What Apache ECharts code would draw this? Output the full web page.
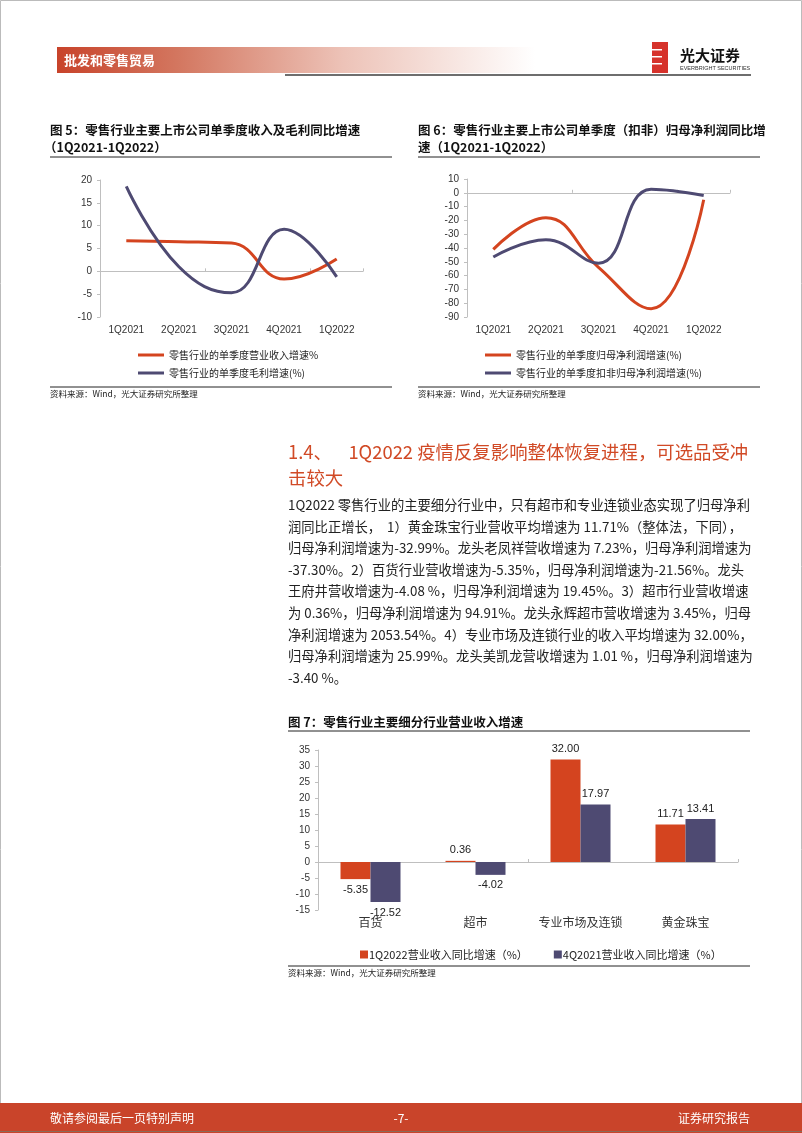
<!DOCTYPE html>
<html><head><meta charset="utf-8">
<script src="https://cdn.jsdelivr.net/npm/echarts@6/dist/echarts.min.js"></script>
<style>html,body{margin:0;padding:0;background:#fff}#c{width:802px;height:1133px}</style>
</head><body><div id="c"></div>
<script>
// ---- data ----
const quarters = ['1Q2021','2Q2021','3Q2021','4Q2021','1Q2022'];
const fig5Revenue = [6.7, 6.5, 6.2, -1.7, 2.7];
const fig5Gross = [18.6, 1.0, -4.7, 9.2, -1.2];
const fig5Names = ['零售行业的单季度营业收入增速%','零售行业的单季度毛利增速(%)'];
const fig6Net = [-41, -18, -54, -84, -5];
const fig6NetDeducted = [-46.5, -34, -51, 2.5, -2];
const fig6Names = ['零售行业的单季度归母净利润增速(%)','零售行业的单季度扣非归母净利润增速(%)'];
const sectors = ['百货','超市','专业市场及连锁','黄金珠宝'];
const fig7Q1 = [-5.35, 0.36, 32.00, 11.71];
const fig7Q4 = [-12.52, -4.02, 17.97, 13.41];
const fig7Names = ['1Q2022营业收入同比增速（%）','4Q2021营业收入同比增速（%）'];
const paragraph = [
 '1Q2022 零售行业的主要细分行业中，只有超市和专业连锁业态实现了归母净利',
 '润同比正增长，  1）黄金珠宝行业营收平均增速为 11.71%（整体法，下同），',
 '归母净利润增速为-32.99%。龙头老凤祥营收增速为 7.23%，归母净利润增速为',
 '-37.30%。2）百货行业营收增速为-5.35%，归母净利润增速为-21.56%。龙头',
 '王府井营收增速为-4.08 %，归母净利润增速为 19.45%。3）超市行业营收增速',
 '为 0.36%，归母净利润增速为 94.91%。龙头永辉超市营收增速为 3.45%，归母',
 '净利润增速为 2053.54%。4）专业市场及连锁行业的收入平均增速为 32.00%，',
 '归母净利润增速为 25.99%。龙头美凯龙营收增速为 1.01 %，归母净利润增速为',
 '-3.40 %。'
];

const RED = '#D4441F', PURPLE = '#4E4A72';
const SANS = '"Liberation Sans", Arial, "Noto Sans CJK SC", sans-serif';
const CJK = '"Noto Sans CJK SC", sans-serif';

const chart = echarts.init(document.getElementById('c'), null, {renderer:'canvas'});

function txt(text, x, y, size, opts) {
  opts = opts || {};
  return {type:'text', x:x, y:y, silent:true, z:10, style:{
    text:text, fill:opts.fill||'#222', fontSize:size, fontWeight:opts.weight||'normal',
    fontFamily:opts.family||CJK, align:opts.align||'left', verticalAlign:'middle'}};
}
function hline(x1, x2, y, w, c) {
  return {type:'line', silent:true, shape:{x1:x1,y1:y,x2:x2,y2:y}, style:{stroke:c||'#000', lineWidth:w||1}};
}

const graphics = [
  {type:'rect', shape:{x:0.5,y:0.5,width:801,height:1132}, style:{fill:'none', stroke:'#bbb', lineWidth:1}, silent:true},
  // header
  {type:'rect', shape:{x:57,y:47,width:478,height:26}, silent:true, style:{fill:new echarts.graphic.LinearGradient(0,0,1,0,[
    {offset:0,color:'#C8432A'},{offset:0.25,color:'#D3765F'},{offset:0.6,color:'#EDC3B8'},{offset:1,color:'#ffffff'}])}},
  txt('批发和零售贸易', 64, 60, 13, {fill:'#fff', weight:'bold'}),
  {type:'rect', shape:{x:285,y:74,width:466,height:2}, style:{fill:'#6e6e6e'}, silent:true},
  // logo
  {type:'rect', shape:{x:652,y:42,width:16,height:31}, style:{fill:'#D6322B'}, silent:true},
  {type:'rect', shape:{x:652,y:49,width:10,height:1.5}, style:{fill:'#fff'}, silent:true},
  {type:'rect', shape:{x:652,y:56,width:10,height:1.5}, style:{fill:'#fff'}, silent:true},
  {type:'rect', shape:{x:652,y:63,width:10,height:1.5}, style:{fill:'#fff'}, silent:true},
  txt('光大证券', 680, 55, 15, {weight:'bold', fill:'#111'}),
  txt('EVERBRIGHT SECURITIES', 680, 68, 5.5, {family:SANS, fill:'#333'}),
  // fig 5 title
  txt('图 5：零售行业主要上市公司单季度收入及毛利同比增速', 50, 130, 12.5, {weight:'bold', fill:'#111'}),
  txt('（1Q2021-1Q2022）', 44, 147, 12.5, {weight:'bold', fill:'#111'}),
  hline(50, 392, 157, 1, '#222'),
  hline(50, 392, 387, 1, '#222'),
  txt('资料来源：Wind，光大证券研究所整理', 50, 394, 8.5, {fill:'#222'}),
  // fig 6 title
  txt('图 6：零售行业主要上市公司单季度（扣非）归母净利润同比增', 418, 130, 12.5, {weight:'bold', fill:'#111'}),
  txt('速（1Q2021-1Q2022）', 418, 147, 12.5, {weight:'bold', fill:'#111'}),
  hline(418, 760, 157, 1, '#222'),
  hline(418, 760, 387, 1, '#222'),
  txt('资料来源：Wind，光大证券研究所整理', 418, 394, 8.5, {fill:'#222'}),
  // section heading
  txt('1.4、    1Q2022 疫情反复影响整体恢复进程，可选品受冲', 288, 452, 18.4, {fill:'#D14A26'}),
  txt('击较大', 288, 478, 18.4, {fill:'#D14A26'}),
  // fig 7 title
  txt('图 7：零售行业主要细分行业营业收入增速', 288, 722, 12.5, {weight:'bold', fill:'#111'}),
  hline(288, 750, 731, 1, '#222'),
  hline(288, 750, 966, 1, '#222'),
  txt('资料来源：Wind，光大证券研究所整理', 288, 973, 8.5, {fill:'#222'}),
  // footer
  {type:'rect', shape:{x:0,y:1103,width:802,height:30}, style:{fill:'#C9442A'}, silent:true},
  hline(0, 802, 1131.5, 1, '#8a6a5a'),
  txt('敬请参阅最后一页特别声明', 50, 1118, 12, {fill:'#fff'}),
  txt('-7-', 401, 1118, 12, {fill:'#fff', align:'center'}),
  txt('证券研究报告', 750, 1118, 12, {fill:'#fff', align:'right'})
];
paragraph.forEach((line, i) => graphics.push(txt(line, 288, 505 + i * 21.6, 13.3, {fill:'#222'})));

const axisLbl = {color:'#333', fontSize:10, fontFamily:SANS};
function lineYAxis(gi, min, max, interval) {
  return {gridIndex:gi, type:'value', min:min, max:max, interval:interval,
    splitLine:{show:false}, axisLine:{show:true, lineStyle:{color:'#bfbfbf'}},
    axisTick:{show:true, length:3, lineStyle:{color:'#bfbfbf'}},
    axisLabel:Object.assign({margin:8}, axisLbl)};
}
function zeroAxis(gi, cats) {
  return {gridIndex:gi, type:'category', data:cats, position:'bottom',
    axisLine:{onZero:true, lineStyle:{color:'#bfbfbf'}},
    axisTick:{show:true, inside:true, length:3, lineStyle:{color:'#bfbfbf'}},
    axisLabel:{show:false}};
}
function labelAxis(gi, cats, lbl) {
  return {gridIndex:gi, type:'category', data:cats, position:'bottom',
    axisLine:{show:false, onZero:false}, axisTick:{show:false}, axisLabel:Object.assign({interval:0}, lbl)};
}
function lineSeries(name, data, color, xi, yi) {
  return {type:'line', name:name, data:data, xAxisIndex:xi, yAxisIndex:yi,
    smooth:0.45, symbol:'none', lineStyle:{color:color, width:3}, itemStyle:{color:color}};
}

function barLabel(v) {
  return {value:v, label:{position: v < 0 ? 'bottom' : 'top', distance:5}};
}

const option = {
  animation:false,
  graphic:graphics,
  grid:[
    {left:100, right:439, top:180, bottom:816},
    {left:467, right:72, top:179, bottom:816},
    {left:318, right:64, top:750, bottom:223}
  ],
  xAxis:[
    zeroAxis(0, quarters),
    labelAxis(0, quarters, Object.assign({margin:8}, axisLbl, {fontSize:10})),
    zeroAxis(1, quarters),
    labelAxis(1, quarters, Object.assign({margin:8}, axisLbl, {fontSize:10})),
    zeroAxis(2, sectors),
    labelAxis(2, sectors, {margin:6, color:'#333', fontSize:12, fontFamily:CJK})
  ],
  yAxis:[
    lineYAxis(0, -10, 20, 5),
    lineYAxis(1, -90, 10, 10),
    lineYAxis(2, -15, 35, 5)
  ],
  legend:[
    {data:fig5Names, orient:'vertical', left:133, top:345, itemWidth:26, itemHeight:10, itemGap:8,
      icon:'path://M0,0 L26,0 L26,3 L0,3 Z',
      textStyle:{fontSize:10, color:'#222', fontFamily:CJK}},
    {data:fig6Names, orient:'vertical', left:480, top:345, itemWidth:26, itemHeight:10, itemGap:8,
      icon:'path://M0,0 L26,0 L26,3 L0,3 Z',
      textStyle:{fontSize:10, color:'#222', fontFamily:CJK}},
    {data:fig7Names, orient:'horizontal', left:355, top:944, itemWidth:8, itemHeight:8, itemGap:26,
      icon:'rect', textStyle:{fontSize:11, color:'#222', fontFamily:CJK, padding:[0,0,0,-4]}}
  ],
  series:[
    lineSeries(fig5Names[0], fig5Revenue, RED, 0, 0),
    lineSeries(fig5Names[1], fig5Gross, PURPLE, 0, 0),
    lineSeries(fig6Names[0], fig6Net, RED, 2, 1),
    lineSeries(fig6Names[1], fig6NetDeducted, PURPLE, 2, 1),
    {type:'bar', name:fig7Names[0], xAxisIndex:4, yAxisIndex:2, data:fig7Q1.map(barLabel),
      barWidth:30, barGap:'0%', itemStyle:{color:RED},
      label:{show:true, color:'#222', fontSize:11, fontFamily:SANS, formatter:p=>p.value.toFixed(2)}},
    {type:'bar', name:fig7Names[1], xAxisIndex:4, yAxisIndex:2, data:fig7Q4.map(barLabel),
      barWidth:30, barGap:'0%', itemStyle:{color:PURPLE},
      label:{show:true, color:'#222', fontSize:11, fontFamily:SANS, formatter:p=>p.value.toFixed(2)}}
  ]
};
chart.setOption(option);
</script></body></html>
